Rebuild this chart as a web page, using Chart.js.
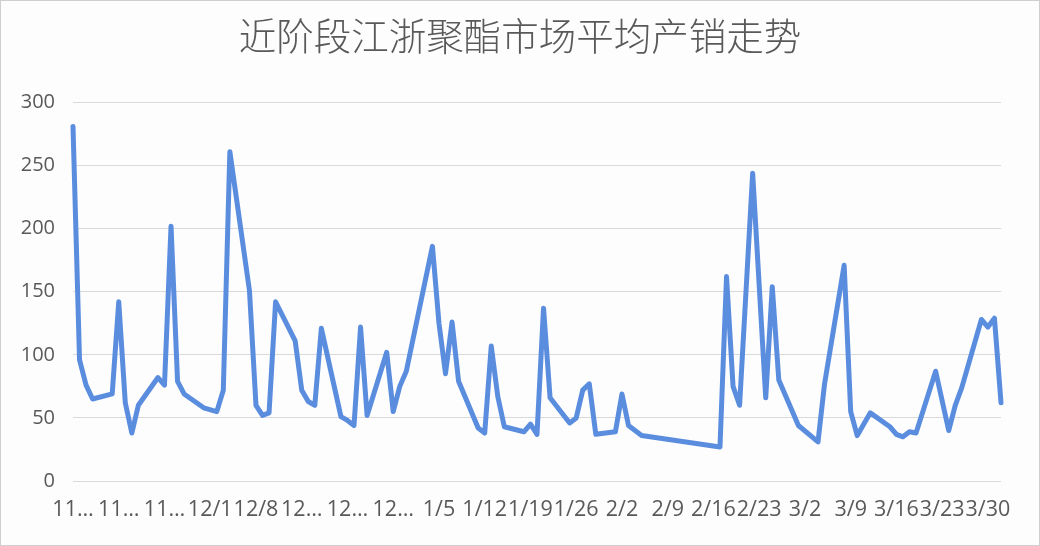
<!DOCTYPE html>
<html>
<head>
<meta charset="utf-8">
<script src="https://cdn.jsdelivr.net/npm/chart.js@4/dist/chart.umd.min.js"></script>
<style>
  html, body { margin: 0; padding: 0; background: #ffffff; }
  #wrap { width: 1040px; height: 546px; box-sizing: border-box; border: 1px solid #cfcfcf; background: #fdfdfe; }
  canvas { display: block; }
</style>
</head>
<body>
<div id="wrap"><canvas id="c" width="1038" height="544"></canvas></div>
<script>
// ---- data ----
const chartTitle = "近阶段江浙聚酯市场平均产销走势";
const axisStart = "2020-11-10";
const axisEnd = "2021-04-01";
const tickLabels = ["11…","11…","11…","12/1","12/8","12…","12…","12…","1/5","1/12","1/19","1/26","2/2","2/9","2/16","2/23","3/2","3/9","3/16","3/23","3/30"];
const yTicks = [0, 50, 100, 150, 200, 250, 300];

const dates = [
  "2020-11-10","2020-11-11","2020-11-12","2020-11-13","2020-11-16","2020-11-17","2020-11-18","2020-11-19","2020-11-20",
  "2020-11-23","2020-11-24","2020-11-25","2020-11-26","2020-11-27","2020-11-30",
  "2020-12-02","2020-12-03","2020-12-04","2020-12-07","2020-12-08","2020-12-09","2020-12-10","2020-12-11",
  "2020-12-14","2020-12-15","2020-12-16","2020-12-17","2020-12-18","2020-12-21","2020-12-22","2020-12-23","2020-12-24","2020-12-25",
  "2020-12-28","2020-12-29","2020-12-30","2020-12-31",
  "2021-01-04","2021-01-05","2021-01-06","2021-01-07","2021-01-08","2021-01-11","2021-01-12","2021-01-13","2021-01-14","2021-01-15",
  "2021-01-18","2021-01-19","2021-01-20","2021-01-21","2021-01-22","2021-01-25","2021-01-26","2021-01-27","2021-01-28","2021-01-29",
  "2021-02-01","2021-02-02","2021-02-03","2021-02-05",
  "2021-02-17","2021-02-18","2021-02-19","2021-02-20","2021-02-22","2021-02-24","2021-02-25","2021-02-26",
  "2021-03-01","2021-03-04","2021-03-05","2021-03-08","2021-03-09","2021-03-10","2021-03-12","2021-03-15","2021-03-16","2021-03-17","2021-03-18","2021-03-19",
  "2021-03-22","2021-03-24","2021-03-25","2021-03-26","2021-03-29","2021-03-30","2021-03-31","2021-04-01"
];
const values = [
  281, 96, 76, 65, 69, 142, 62, 38, 60,
  82, 76, 202, 79, 69, 58,
  55, 72, 261, 151, 60, 52, 54, 142,
  111, 72, 63, 60, 121, 51, 48, 44, 122, 52,
  102, 55, 75, 87,
  186, 125, 85, 126, 79, 42, 38, 107, 67, 43,
  39, 45, 37, 137, 66, 46, 50, 72, 77, 37,
  39, 69, 44, 36,
  27, 162, 75, 60, 244, 66, 154, 80,
  44, 31, 77, 171, 55, 36, 54, 43, 37, 35, 39, 38,
  87, 40, 60, 74, 128, 122, 129, 62
];

// ---- build ----
const DAY = 86400000;
const t0 = Date.parse(axisStart);
const dayOf = d => Math.round((Date.parse(d) - t0) / DAY);
const points = dates.map((d, i) => ({ x: dayOf(d), y: values[i] }));
const xMax = dayOf(axisEnd);

const yFont = { family: "'Open Sans', 'Noto Sans', sans-serif", size: 20 };
const xFont = { family: "'Open Sans', 'Noto Sans', sans-serif", size: 21.5 };

// center the title over the whole canvas (not the padded layout box)
const centerTitle = {
  id: 'centerTitle',
  afterLayout(chart) {
    const t = chart.titleBlock;
    if (t) { t.left = 0; t.right = chart.width; t.width = chart.width; }
  }
};

new Chart(document.getElementById('c'), {
  type: 'line',
  data: {
    datasets: [{
      data: points,
      borderColor: '#5b8ddf',
      borderWidth: 5,
      borderJoinStyle: 'round',
      borderCapStyle: 'round',
      pointRadius: 0,
      pointHoverRadius: 0,
      tension: 0,
      fill: false,
      clip: false
    }]
  },
  plugins: [centerTitle],
  options: {
    responsive: false,
    animation: false,
    devicePixelRatio: 1,
    layout: { padding: { left: 0, right: 38, top: 0, bottom: 0 } },
    plugins: {
      legend: { display: false },
      tooltip: { enabled: false },
      title: {
        display: true,
        text: chartTitle,
        color: '#595959',
        font: { family: "'Noto Sans CJK SC', sans-serif", size: 37.5, weight: 300, lineHeight: 1.2 },
        padding: { top: 12, bottom: 44.5 }
      }
    },
    scales: {
      x: {
        type: 'linear',
        min: 0,
        max: xMax,
        afterBuildTicks: s => { s.ticks = tickLabels.map((_, i) => ({ value: i * 7 })); },
        afterFit: s => { s.height = 64; },
        grid: { display: false, drawTicks: false },
        border: { display: false },
        ticks: {
          autoSkip: false,
          maxRotation: 0,
          minRotation: 0,
          padding: 16,
          color: '#595959',
          font: xFont,
          callback: (v) => tickLabels[Math.round(v / 7)]
        }
      },
      y: {
        min: 0,
        max: 300,
        afterBuildTicks: s => { s.ticks = yTicks.map(v => ({ value: v })); },
        afterFit: s => { s.width = 72; },
        grid: { color: '#d9d9d9', lineWidth: 1, drawTicks: false },
        border: { display: false },
        ticks: {
          padding: 18,
          color: '#595959',
          font: yFont
        }
      }
    }
  }
});
</script>
</body>
</html>
